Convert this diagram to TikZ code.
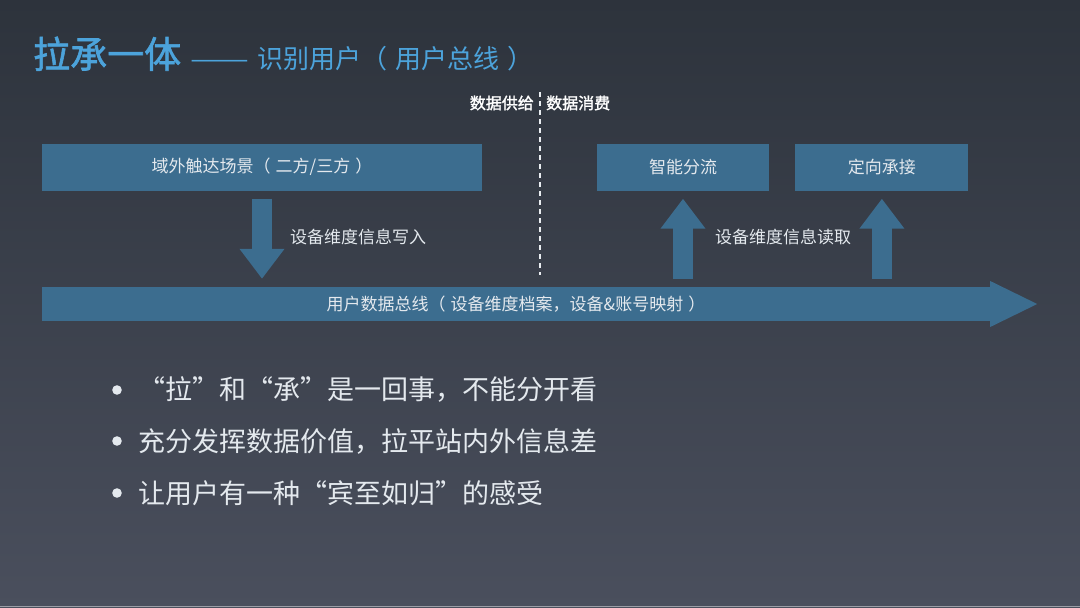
\documentclass[tikz,border=0pt]{standalone}
\usepackage{fontspec}
\setmainfont{Noto Sans CJK SC}
\newfontfamily\headfont{Noto Sans CJK SC}[FakeBold=1.6]
\usetikzlibrary{positioning,arrows.meta}
\definecolor{bgtop}{HTML}{2D333C}
\definecolor{bgbottom}{HTML}{4A4F5D}
\definecolor{titleblue}{HTML}{4CA3DB}
\definecolor{busblue}{HTML}{3C6D8F}
\definecolor{lighttext}{HTML}{E4E9EE}
\tikzset{
  box/.style={fill=busblue, text=lighttext, inner sep=0pt, minimum height=47pt,
    font=\fontsize{17}{17}\selectfont},
  fat/.style={draw=busblue, line width=20pt, -{Triangle[width=43pt,length=30pt]},
    shorten <=8pt, shorten >=8pt},
  note/.style={text=lighttext, inner sep=0pt, font=\fontsize{17}{17}\selectfont},
  side/.style={text=white, inner sep=0pt, font=\fontsize{16}{16}\headfont},
  point/.style={text=lighttext, inner sep=0pt, anchor=west, font=\fontsize{27}{27}\selectfont}
}
\newcommand{\pad}{\hspace{0.3em}}

\begin{document}
\begin{tikzpicture}[x=1pt,y=-1pt]
  \shade[top color=bgtop, bottom color=bgbottom] (0,0) rectangle (1080,608);
  \useasboundingbox (0,0) rectangle (1080,608);
  \draw[white!45!bgbottom, line width=1pt] (0,606) -- (1080,606);

  % title
  \node[anchor=base west, inner sep=0pt, text=titleblue,
    font=\fontsize{37}{37}\headfont] (title) at (33,68) {拉承一体};
  \node[base right=9pt of title, inner sep=0pt, text=titleblue,
    font=\fontsize{26}{26}\selectfont] (subtitle)
    {\scalebox{1.35}[1]{——}\hspace{8pt}识别用户（\pad 用户总线\pad）};

  % supply | consume
  \coordinate (cut top) at (540,92);
  \coordinate (cut bottom) at (540,275);
  \draw[lighttext!80, line width=1.3pt, dash pattern=on 5pt off 4pt] (cut top) -- (cut bottom);
  \node[side, anchor=east] (supply) at (534,103) {数据供给};
  \node[side, anchor=west] (consume) at (546,103) {数据消费};

  \node[box, minimum width=440pt] (scene) at (262,167) {域外触达场景（\pad 二方/三方\pad）};
  \node[box, minimum width=172pt] (split) at (683,167) {智能分流};
  \node[box, minimum width=173pt, right=26pt of split] (accept) {定向承接};

  % user bus
  \node[box, minimum width=948pt, minimum height=34pt] (bus) at (516,304)
    {用户数据总线（\pad 设备维度档案，设备\&账号映射\pad）};
  \fill[busblue] (bus.east) ++(0,-23) -- ++(47,23) -- ++(-47,23) -- cycle;

  \draw[fat] (scene.south) -- (scene.south |- bus.north);
  \draw[fat] (split.south |- bus.north) -- (split.south);
  \draw[fat] (accept.south |- bus.north) -- (accept.south);
  \node[note, anchor=west] (write) at (290,237) {设备维度信息写入};
  \node[note, anchor=west] (read) at (715,237) {设备维度信息读取};

  % points
  \foreach \y/\txt in {390/{“拉”和“承”是一回事，不能分开看},
                       441/{充分发挥数据价值，拉平站内外信息差},
                       493/{让用户有一种“宾至如归”的感受}} {
    \fill[lighttext] (117,\y) circle [radius=4.8pt];
    \node[point] (pt\y) at (138,\y) {\txt};
  }
\end{tikzpicture}
\end{document}
